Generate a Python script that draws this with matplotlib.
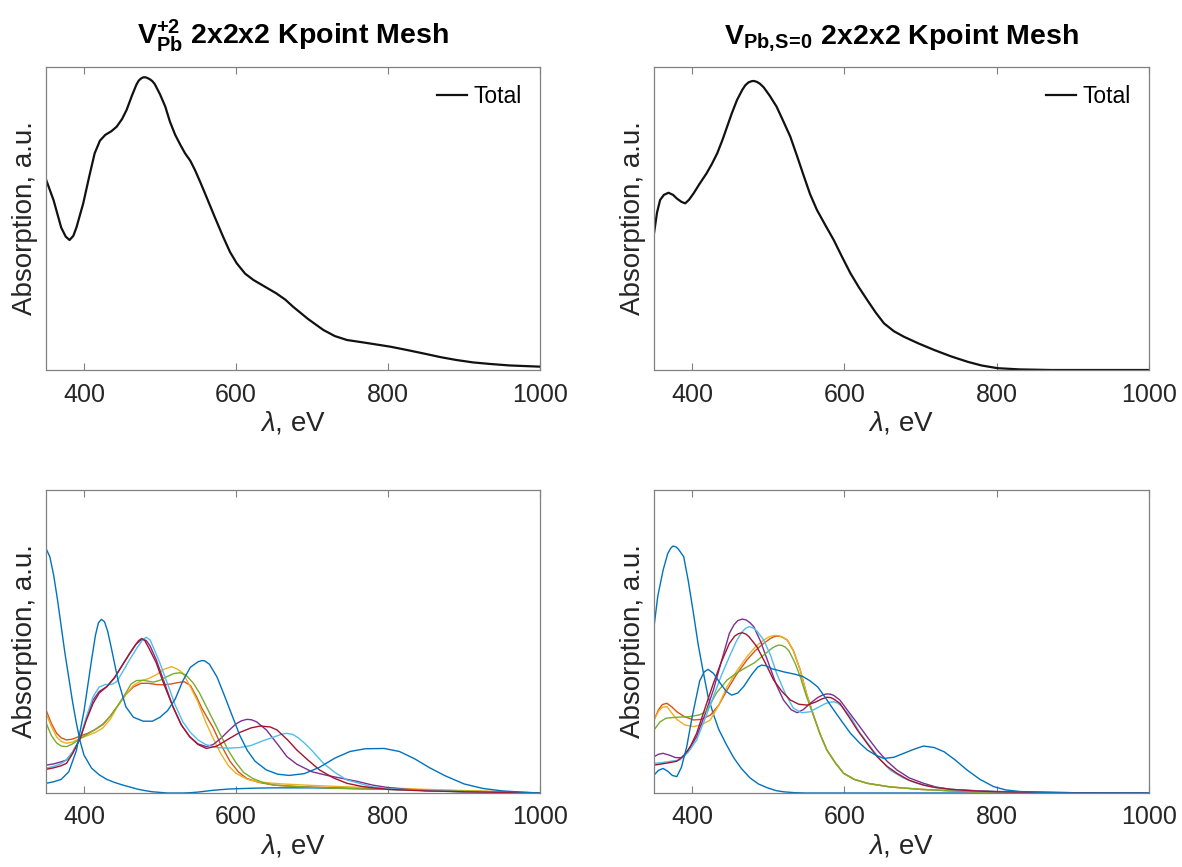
import matplotlib
matplotlib.use("Agg")
import matplotlib.pyplot as plt

plt.rcParams['font.family'] = ['Liberation Sans', 'DejaVu Sans']
plt.rcParams['mathtext.fontset'] = 'custom'
plt.rcParams['mathtext.rm'] = 'Liberation Sans'
plt.rcParams['mathtext.bf'] = 'Liberation Sans:bold'
plt.rcParams['mathtext.it'] = 'Liberation Sans:italic'

# ---------------- data ----------------
titles = [r'$\mathbf{V^{+2}_{Pb}}$ 2x2x2 Kpoint Mesh', r'$\mathbf{V_{Pb,\!S\!=\!0}}$ 2x2x2 Kpoint Mesh']
xticks = [400, 600, 800, 1000]
xlim = (350, 1000)

# Top-left total
tl_x = [350,360,370,376,381,386,390,399,407,414,421,428,436,443,450,456,463,469,472,475,478,481,484,487,490,493,500,507,513,520,527,533,540,546,553,561,572,583,592,601,612,623,638,653,665,675,695,715,730,746,770,803,825,846,870,890,912,934,960,1000]
tl_y = [0.629,0.56,0.47,0.44,0.429,0.443,0.47,0.55,0.64,0.715,0.757,0.776,0.788,0.803,0.828,0.858,0.905,0.942,0.955,0.962,0.966,0.966,0.963,0.959,0.953,0.944,0.91,0.869,0.82,0.776,0.742,0.715,0.69,0.66,0.62,0.572,0.505,0.44,0.39,0.352,0.318,0.297,0.275,0.253,0.232,0.209,0.168,0.132,0.112,0.099,0.09,0.077,0.066,0.055,0.042,0.033,0.025,0.02,0.015,0.011]

# Top-right total
tr_x = [350,354,358,363,369,375,380,386,391,396,402,410,419,426,433,440,446,452,459,466,470,474,478,481,485,489,494,502,511,520,529,538,547,555,564,575,586,597,608,619,630,641,652,665,678,697,718,740,762,780,801,830,871,920,1000]
tr_y = [0.451,0.52,0.561,0.578,0.585,0.578,0.566,0.555,0.55,0.562,0.583,0.615,0.649,0.68,0.715,0.76,0.803,0.846,0.891,0.925,0.94,0.949,0.953,0.954,0.951,0.945,0.933,0.905,0.869,0.82,0.77,0.705,0.638,0.58,0.528,0.478,0.429,0.373,0.319,0.273,0.231,0.19,0.154,0.128,0.11,0.088,0.066,0.045,0.027,0.015,0.006,0.002,0.0,0.0,0.0]

# Bottom-left components
bl_blue1_x = [350,355,360,365,370,375,380,385,390,395,400,410,420,430,440,450,460,470,480,490,500,510,520,530,540,550,560,570,580,590,600,625,650,700,750,800,850,900,950,1000]
bl_blue1_y = [0.807,0.78,0.72,0.64,0.55,0.46,0.38,0.3,0.23,0.17,0.125,0.082,0.06,0.045,0.035,0.027,0.02,0.013,0.008,0.004,0.002,0.0,0.0,0.0,0.001,0.003,0.006,0.009,0.011,0.013,0.014,0.016,0.017,0.017,0.015,0.012,0.008,0.005,0.002,0.0]
bl_orange_x = [350,357,364,370,377,385,395,405,415,425,435,445,455,465,475,485,495,505,515,525,532,540,548,555,563,570,580,592,603,614,630,650,680,720,760,800,850,900,950,1000]
bl_orange_y = [0.274,0.23,0.197,0.182,0.175,0.178,0.188,0.197,0.21,0.226,0.255,0.29,0.325,0.35,0.362,0.362,0.358,0.357,0.36,0.365,0.367,0.355,0.318,0.28,0.245,0.215,0.16,0.105,0.07,0.048,0.035,0.026,0.021,0.018,0.016,0.014,0.01,0.007,0.004,0.0]
bl_yellow_x = [350,357,364,370,377,385,395,405,415,425,435,445,455,465,475,485,495,505,515,522,530,540,550,560,570,580,590,600,615,630,660,700,750,800,850,900,950,1000]
bl_yellow_y = [0.263,0.22,0.185,0.17,0.164,0.168,0.18,0.19,0.2,0.215,0.245,0.29,0.325,0.355,0.37,0.378,0.39,0.408,0.417,0.41,0.396,0.35,0.3,0.235,0.18,0.13,0.09,0.065,0.045,0.036,0.03,0.025,0.02,0.017,0.012,0.008,0.004,0.0]
bl_purple_x = [350,360,370,377,385,395,403,412,420,430,440,452,460,468,474,478,482,487,495,505,517,528,539,550,561,570,580,590,600,607,614,620,627,640,655,667,680,700,720,740,760,780,800,825,850,900,950,1000]
bl_purple_y = [0.092,0.096,0.103,0.109,0.135,0.18,0.245,0.307,0.335,0.351,0.38,0.428,0.46,0.49,0.503,0.507,0.503,0.485,0.44,0.37,0.285,0.225,0.186,0.162,0.153,0.16,0.18,0.205,0.228,0.238,0.243,0.242,0.235,0.208,0.16,0.12,0.095,0.07,0.058,0.048,0.038,0.026,0.018,0.012,0.008,0.004,0.002,0.0]
bl_green_x = [350,357,364,370,377,385,395,405,415,425,435,445,455,462,469,478,491,500,510,518,526,534,544,552,560,570,580,590,600,610,622,635,650,690,737,800,850,900,950,1000]
bl_green_y = [0.232,0.19,0.165,0.155,0.153,0.162,0.18,0.195,0.21,0.228,0.255,0.29,0.33,0.36,0.371,0.372,0.366,0.372,0.385,0.394,0.397,0.39,0.362,0.33,0.29,0.24,0.19,0.14,0.1,0.068,0.048,0.035,0.026,0.02,0.015,0.012,0.009,0.006,0.003,0.0]
bl_ltblue_x = [350,360,370,377,385,395,403,412,420,428,436,443,452,460,470,477,482,487,493,500,510,520,530,540,550,560,575,590,605,620,635,650,660,667,675,682,690,700,715,730,746,765,780,800,850,900,950,1000]
bl_ltblue_y = [0.082,0.088,0.097,0.109,0.135,0.18,0.25,0.318,0.35,0.358,0.358,0.367,0.405,0.44,0.48,0.505,0.514,0.505,0.47,0.428,0.36,0.29,0.235,0.2,0.175,0.16,0.15,0.148,0.15,0.157,0.172,0.185,0.194,0.197,0.193,0.182,0.165,0.14,0.098,0.068,0.043,0.03,0.02,0.014,0.008,0.004,0.002,0.0]
bl_dkred_x = [350,360,370,377,385,395,403,412,420,430,440,452,460,468,472,476,480,485,495,505,517,528,539,550,561,575,590,605,620,632,645,654,668,680,695,710,728,746,765,780,800,850,900,950,1000]
bl_dkred_y = [0.078,0.083,0.09,0.098,0.13,0.18,0.24,0.296,0.33,0.351,0.38,0.428,0.46,0.49,0.503,0.51,0.503,0.48,0.43,0.36,0.285,0.225,0.186,0.16,0.147,0.155,0.178,0.2,0.215,0.221,0.218,0.208,0.175,0.142,0.108,0.076,0.05,0.032,0.022,0.017,0.012,0.007,0.004,0.002,0.0]
bl_blue2_x = [350,360,370,380,390,400,410,415,419,423,427,431,435,445,455,465,478,490,500,510,520,530,540,550,555,559,565,575,585,595,605,615,625,640,655,670,690,710,730,750,770,795,815,835,855,875,900,925,950,975,1000]
bl_blue2_y = [0.032,0.037,0.045,0.07,0.14,0.27,0.44,0.52,0.562,0.573,0.565,0.535,0.49,0.37,0.285,0.25,0.237,0.237,0.25,0.272,0.31,0.37,0.415,0.433,0.437,0.436,0.425,0.383,0.32,0.255,0.19,0.14,0.105,0.076,0.062,0.058,0.064,0.085,0.115,0.137,0.146,0.147,0.137,0.113,0.083,0.057,0.03,0.015,0.007,0.003,0.0]

# Bottom-right components
br_blue1_x = [350,355,362,368,372,375,379,382,389,395,402,408,415,421,428,435,445,455,465,476,487,498,510,520,535,550,600,700,800,900,1000]
br_blue1_y = [0.549,0.65,0.736,0.79,0.808,0.815,0.812,0.805,0.78,0.7,0.59,0.49,0.395,0.318,0.26,0.21,0.16,0.115,0.08,0.05,0.03,0.018,0.008,0.004,0.001,0.0,0.0,0.0,0.0,0.0,0.0]
br_orange_x = [350,356,361,367,373,380,390,402,412,424,435,446,458,472,483,494,503,507,511,515,518,525,533,542,550,560,568,577,588,599,613,630,660,700,750,800,850,1000]
br_orange_y = [0.241,0.275,0.292,0.296,0.285,0.268,0.252,0.241,0.243,0.257,0.29,0.34,0.39,0.439,0.47,0.494,0.51,0.515,0.518,0.517,0.515,0.505,0.47,0.406,0.33,0.252,0.195,0.142,0.1,0.065,0.045,0.032,0.02,0.012,0.006,0.002,0.0,0.0]
br_yellow_x = [350,356,361,367,373,380,390,402,412,424,435,446,458,472,483,494,502,506,510,514,518,525,533,542,550,560,568,577,588,599,613,630,660,700,750,800,850,1000]
br_yellow_y = [0.241,0.27,0.283,0.285,0.265,0.243,0.225,0.219,0.225,0.241,0.29,0.351,0.4,0.45,0.482,0.505,0.516,0.519,0.52,0.519,0.515,0.505,0.47,0.406,0.33,0.252,0.195,0.142,0.1,0.065,0.045,0.032,0.02,0.012,0.006,0.002,0.0,0.0]
br_purple_x = [350,356,362,370,378,386,395,406,417,428,438,449,455,460,466,471,476,481,490,502,511,520,530,538,546,555,565,572,577,582,586,594,605,617,630,643,656,669,685,704,720,740,770,800,850,900,1000]
br_purple_y = [0.12,0.128,0.131,0.125,0.117,0.116,0.14,0.186,0.26,0.34,0.43,0.527,0.555,0.569,0.574,0.571,0.562,0.549,0.5,0.417,0.355,0.307,0.275,0.265,0.275,0.296,0.315,0.324,0.327,0.326,0.322,0.307,0.27,0.23,0.185,0.142,0.105,0.076,0.05,0.032,0.02,0.012,0.008,0.005,0.003,0.001,0.0]
br_green_x = [350,358,366,380,397,410,419,432,446,458,470,482,494,505,510,514,518,522,527,535,542,550,560,568,577,588,599,613,630,660,700,750,800,850,1000]
br_green_y = [0.208,0.235,0.247,0.25,0.252,0.258,0.27,0.33,0.373,0.395,0.413,0.43,0.455,0.478,0.485,0.488,0.487,0.482,0.47,0.43,0.384,0.32,0.252,0.195,0.142,0.1,0.065,0.045,0.032,0.02,0.012,0.006,0.002,0.0,0.0]
br_ltblue_x = [350,360,370,384,395,406,417,428,438,449,458,465,470,475,480,485,494,503,511,522,533,544,555,565,575,581,586,591,597,608,620,634,647,660,677,695,715,740,770,800,850,900,1000]
br_ltblue_y = [0.098,0.1,0.104,0.109,0.135,0.175,0.245,0.318,0.385,0.45,0.5,0.53,0.543,0.549,0.545,0.535,0.505,0.455,0.395,0.33,0.28,0.265,0.268,0.282,0.295,0.3,0.301,0.297,0.285,0.252,0.2,0.153,0.11,0.076,0.05,0.032,0.02,0.012,0.007,0.004,0.002,0.001,0.0]
br_dkred_x = [350,360,370,380,390,398,406,417,428,438,449,456,461,466,471,475,485,496,507,518,529,540,551,562,570,577,582,586,594,605,617,630,643,656,669,685,704,720,740,770,800,850,900,1000]
br_dkred_y = [0.092,0.096,0.1,0.105,0.125,0.155,0.197,0.28,0.362,0.43,0.494,0.518,0.526,0.529,0.524,0.515,0.483,0.43,0.373,0.335,0.307,0.293,0.29,0.3,0.31,0.316,0.315,0.31,0.296,0.255,0.208,0.163,0.12,0.088,0.065,0.042,0.026,0.018,0.012,0.007,0.004,0.002,0.001,0.0]
br_blue2_x = [350,356,362,368,374,380,386,393,400,410,416,421,428,437,445,452,460,468,478,486,491,497,505,520,535,545,555,565,575,586,597,608,620,630,641,652,665,678,692,704,718,731,745,761,778,796,812,830,860,900,950,1000]
br_blue2_y = [0.059,0.075,0.081,0.072,0.058,0.054,0.085,0.153,0.25,0.37,0.4,0.408,0.395,0.362,0.335,0.323,0.33,0.352,0.39,0.415,0.422,0.42,0.41,0.4,0.392,0.385,0.37,0.35,0.315,0.274,0.235,0.197,0.165,0.142,0.125,0.114,0.118,0.131,0.145,0.155,0.15,0.136,0.11,0.076,0.045,0.021,0.01,0.005,0.002,0.0,0.0,0.0]

colors = ['#0072BD', '#D95319', '#EDB120', '#7E2F8E', '#77AC30', '#4DBEEE', '#A2142F', '#0072BD']

bl_series = [(bl_blue1_x, bl_blue1_y), (bl_orange_x, bl_orange_y), (bl_yellow_x, bl_yellow_y),
             (bl_purple_x, bl_purple_y), (bl_green_x, bl_green_y), (bl_ltblue_x, bl_ltblue_y),
             (bl_dkred_x, bl_dkred_y), (bl_blue2_x, bl_blue2_y)]
br_series = [(br_blue1_x, br_blue1_y), (br_orange_x, br_orange_y), (br_yellow_x, br_yellow_y),
             (br_purple_x, br_purple_y), (br_green_x, br_green_y), (br_ltblue_x, br_ltblue_y),
             (br_dkred_x, br_dkred_y), (br_blue2_x, br_blue2_y)]

# ---------------- figure ----------------
W, H = 1182, 867
fig = plt.figure(figsize=(W / 100, H / 100), dpi=100)

def rect(x0, y0, x1, y1):
    return [x0 / W, 1 - y1 / H, (x1 - x0) / W, (y1 - y0) / H]

ax_tl = fig.add_axes(rect(46, 67, 540, 370))
ax_tr = fig.add_axes(rect(654, 67, 1149, 370))
ax_bl = fig.add_axes(rect(46, 490, 540, 793))
ax_br = fig.add_axes(rect(654, 490, 1149, 793))

frame_col = '#808080'
text_col = '#262626'

def style(ax):
    ax.set_xlim(*xlim)
    ax.set_ylim(0, 1)
    ax.set_xticks(xticks)
    ax.set_yticks([])
    for s in ax.spines.values():
        s.set_color(frame_col)
        s.set_linewidth(0.9)
    ax.tick_params(axis='x', direction='in', top=True, length=5, width=0.8,
                   color=frame_col, labelsize=18, labelcolor=text_col, pad=9)
    ax.set_xlabel(r'$\lambda$, eV', fontsize=20, color=text_col, labelpad=2)
    ax.set_ylabel('Absorption, a.u.', fontsize=20, color=text_col, labelpad=6)

for ax in (ax_tl, ax_tr, ax_bl, ax_br):
    style(ax)

ax_tl.plot(tl_x, tl_y, color='#111111', lw=1.6, label='Total')
ax_tr.plot(tr_x, tr_y, color='#111111', lw=1.6, label='Total')
for ax in (ax_tl, ax_tr):
    ax.legend(loc='upper right', frameon=False, fontsize=16.5, handlelength=1.3,
              handletextpad=0.3, borderaxespad=0.4)

for (x, y), c in zip(bl_series, colors):
    ax_bl.plot(x, y, color=c, lw=1.0)
for (x, y), c in zip(br_series, colors):
    ax_br.plot(x, y, color=c, lw=1.0)

ax_tl.set_title(titles[0], fontsize=20.5, fontweight='bold', color='black', pad=17)
ax_tr.set_title(titles[1], fontsize=20.5, fontweight='bold', color='black', pad=17)

fig.savefig('out.png', dpi=100, facecolor='white')
